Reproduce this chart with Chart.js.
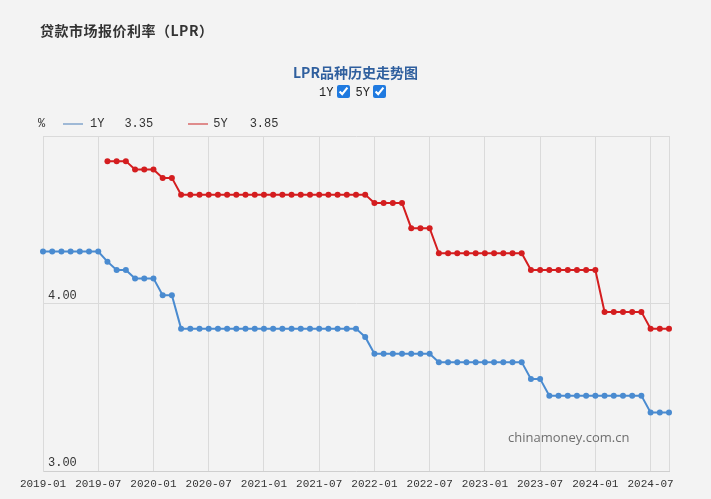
<!DOCTYPE html>
<html>
<head>
<meta charset="utf-8">
<script src="https://cdn.jsdelivr.net/npm/chart.js@4/dist/chart.umd.min.js"></script>
<style>
  html, body { margin: 0; padding: 0; background: #f3f3f3; }
  body { width: 711px; height: 499px; position: relative; overflow: hidden; font-family: "Noto Sans CJK SC", sans-serif; }
  #title { position: absolute; left: 40px; top: 20px; font-size: 14px; font-weight: bold; color: #333; letter-spacing: 0.5px; }
  #sub { position: absolute; left: 0; width: 711px; top: 62px; text-align: center; font-size: 14px; font-weight: bold; color: #2f5f9e; }
  #chk { position: absolute; left: 0; width: 711px; top: 85px; text-align: center; font-size: 12px; color: #222; font-family: "Liberation Mono", monospace; }
  #chk input { accent-color: #1f7ae0; width: 13px; height: 13px; margin: 0 6px 0 3px; vertical-align: -2px; }
  #legend { position: absolute; left: 38px; top: 117px; font-size: 12px; color: #333; font-family: "Liberation Mono", monospace; white-space: nowrap; }
  #legend span { display: inline-block; vertical-align: middle; }
  .ln { width: 20px; height: 2px; }
  #wm { position: absolute; left: 508px; top: 428px; font-size: 13px; color: #6f6f6f; font-family: "Open Sans", sans-serif; }
  #wrap { position: absolute; left: 0; top: 0; width: 711px; height: 499px; }
  canvas { display: block; }
</style>
</head>
<body>
<div id="wrap"><canvas id="c" width="711" height="499" style="width:711px;height:499px"></canvas></div>
<div id="title">贷款市场报价利率（LPR）</div>
<div id="sub">LPR品种历史走势图</div>
<div id="chk">1Y<input type="checkbox" checked>5Y<input type="checkbox" checked></div>
<div id="legend"><span style="width:14px">%</span><span class="ln" style="background:#9fb9d6;margin-left:11px"></span><span style="margin-left:7px">1Y</span><span style="margin-left:20px">3.35</span><span class="ln" style="background:#df8c8c;margin-left:35px"></span><span style="margin-left:5px">5Y</span><span style="margin-left:22px">3.85</span></div>
<div id="wm">chinamoney.com.cn</div>
<script>
const months = [
  "2019-01","2019-02","2019-03","2019-04","2019-05","2019-06","2019-07","2019-08","2019-09","2019-10","2019-11","2019-12",
  "2020-01","2020-02","2020-03","2020-04","2020-05","2020-06","2020-07","2020-08","2020-09","2020-10","2020-11","2020-12",
  "2021-01","2021-02","2021-03","2021-04","2021-05","2021-06","2021-07","2021-08","2021-09","2021-10","2021-11","2021-12",
  "2022-01","2022-02","2022-03","2022-04","2022-05","2022-06","2022-07","2022-08","2022-09","2022-10","2022-11","2022-12",
  "2023-01","2023-02","2023-03","2023-04","2023-05","2023-06","2023-07","2023-08","2023-09","2023-10","2023-11","2023-12",
  "2024-01","2024-02","2024-03","2024-04","2024-05","2024-06","2024-07","2024-08","2024-09"
];
const lpr1Y = [
  4.31,4.31,4.31,4.31,4.31,4.31,4.31,4.25,4.20,4.20,4.15,4.15,
  4.15,4.05,4.05,3.85,3.85,3.85,3.85,3.85,3.85,3.85,3.85,3.85,
  3.85,3.85,3.85,3.85,3.85,3.85,3.85,3.85,3.85,3.85,3.85,3.80,
  3.70,3.70,3.70,3.70,3.70,3.70,3.70,3.65,3.65,3.65,3.65,3.65,
  3.65,3.65,3.65,3.65,3.65,3.55,3.55,3.45,3.45,3.45,3.45,3.45,
  3.45,3.45,3.45,3.45,3.45,3.45,3.35,3.35,3.35
];
const lpr5Y = [
  null,null,null,null,null,null,null,4.85,4.85,4.85,4.80,4.80,
  4.80,4.75,4.75,4.65,4.65,4.65,4.65,4.65,4.65,4.65,4.65,4.65,
  4.65,4.65,4.65,4.65,4.65,4.65,4.65,4.65,4.65,4.65,4.65,4.65,
  4.60,4.60,4.60,4.60,4.45,4.45,4.45,4.30,4.30,4.30,4.30,4.30,
  4.30,4.30,4.30,4.30,4.30,4.20,4.20,4.20,4.20,4.20,4.20,4.20,
  4.20,3.95,3.95,3.95,3.95,3.95,3.85,3.85,3.85
];
const yTicks = ["3.00", "4.00"];

const last = months.length - 1;
new Chart(document.getElementById('c'), {
  type: 'line',
  data: {
    labels: months,
    datasets: [
      { label: '1Y', data: lpr1Y, borderColor: '#4a8bd0', backgroundColor: '#4a8bd0', borderWidth: 2, pointRadius: 3, pointBorderWidth: 0, tension: 0 },
      { label: '5Y', data: lpr5Y, borderColor: '#d41d1f', backgroundColor: '#d41d1f', borderWidth: 2, pointRadius: 3, pointBorderWidth: 0, tension: 0 }
    ]
  },
  options: {
    responsive: false,
    animation: false,
    devicePixelRatio: 1,
    layout: { padding: { left: 43, right: 42, top: 136, bottom: 0 } },
    plugins: { legend: { display: false }, tooltip: { enabled: false } },
    scales: {
      x: {
        type: 'category',
        offset: false,
        afterFit: s => { s.height = 28; },
        border: { display: true, color: '#cfcfcf' },
        grid: {
          drawTicks: false,
          color: ctx => (ctx.index % 6 === 0 || ctx.index === last) ? '#dadada' : 'rgba(0,0,0,0)'
        },
        ticks: {
          autoSkip: false, maxRotation: 0, padding: 6,
          color: '#333', font: { family: 'Liberation Mono', size: 11 },
          callback: (v, i) => i % 6 === 0 ? months[i] : ''
        }
      },
      y: {
        min: 3, max: 5,
        afterFit: s => { s.width = 0; },
        border: { display: true, color: '#dadada' },
        grid: { drawTicks: false, color: '#dadada' },
        ticks: {
          stepSize: 1, mirror: true, padding: 5, labelOffset: -8,
          color: '#333', font: { family: 'Liberation Mono', size: 12 },
          callback: (v) => {
            const s = Number(v).toFixed(2);
            return yTicks.includes(s) ? s : '';
          }
        }
      }
    }
  }
});
</script>
</body>
</html>
